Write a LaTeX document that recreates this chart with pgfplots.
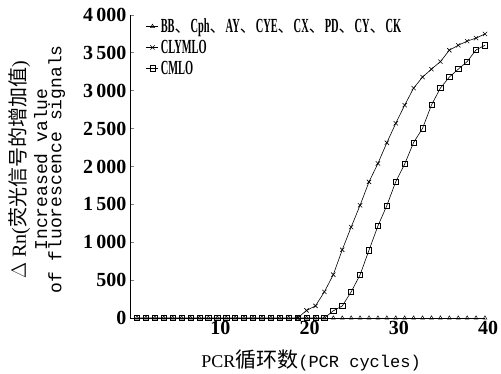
\documentclass[border=0pt]{standalone}
\usepackage{fontspec}
\setmainfont{Liberation Serif}
\setmonofont{Liberation Mono}
\newfontfamily\cjk{Noto Sans CJK SC}
\usepackage{graphicx}
\usepackage{pgfplots}
\pgfplotsset{compat=1.18}
\newcommand\lt[1]{\scalebox{0.52}[1]{\bfseries #1}}
\newcommand\dun{{\cjk\fontsize{16}{16}\selectfont 、}}
\begin{document}
\begin{tikzpicture}
\begin{axis}[
  scale only axis, width=355pt, height=303pt,
  xmin=0.215, xmax=40, ymin=0, ymax=4000,
  axis lines=left, axis line style={-, line width=0.8pt},
  xtick={10,20,30,40}, ytick={0,500,...,4000},
  x tick style={draw=none},
  y tick style={line width=0.8pt},
  tick align=inside, major tick length=4pt,
  tick label style={font=\fontsize{20}{20}\selectfont\bfseries},
  x tick label style={xshift=3pt},
  /pgf/number format/assume math mode=true,
  yticklabel style={/pgf/number format/1000 sep={\,}},
  clip=false,
  ylabel={{\fontsize{20}{20}\selectfont $\Delta$ Rn({\cjk 荧光信号的增加值})}\\[3pt]
          {\fontsize{18}{20}\selectfont\ttfamily Increased value}\\
          {\fontsize{18}{20}\selectfont\ttfamily of fluorescence signals}},
  ylabel style={align=center, at={(axis description cs:-0.262,0.49)}, anchor=center},
  xlabel={{\fontsize{18}{20}\selectfont PCR}{\fontsize{21}{22}\selectfont\cjk 循环数}{\fontsize{17}{20}\selectfont\ttfamily (PCR cycles)}},
  xlabel style={at={(axis description cs:0.51,-0.139)}, anchor=center},
  legend style={at={(rel axis cs:0.045,0.995)}, anchor=north west, draw=none, fill=none,
    font=\fontsize{20}{20}\selectfont, row sep=2pt, cells={anchor=west}, inner sep=0pt},
  legend image code/.code={\draw[mark repeat=2,mark phase=2,#1] plot coordinates {(0pt,0pt) (6pt,0pt) (12pt,0pt)};},
]
\addplot[black, line width=0.6pt, mark=triangle, mark size=2.2pt, mark options={fill=white, line width=0.5pt}] coordinates {
(1,0)(2,0)(3,0)(4,0)(5,0)(6,0)(7,0)(8,0)(9,0)(10,0)
(11,0)(12,0)(13,0)(14,0)(15,0)(16,0)(17,0)(18,0)(19,0)(20,0)
(21,0)(22,0)(23,0)(24,0)(25,0)(26,0)(27,0)(28,0)(29,0)(30,0)
(31,0)(32,0)(33,0)(34,0)(35,0)(36,0)(37,0)(38,0)(39,0)(40,0)};
\addlegendentry{\lt{BB}\dun\lt{Cph}\dun\lt{AY}\dun\lt{CYE}\dun\lt{CX}\dun\lt{PD}\dun\lt{CY}\dun\lt{CK}}
\addplot[black, line width=0.6pt, mark=square, mark size=2.6pt, mark options={fill=white, line width=0.6pt}, forget plot] coordinates {
(1,0)(2,0)(3,0)(4,0)(5,0)(6,0)(7,0)(8,0)(9,0)(10,0)
(11,0)(12,0)(13,0)(14,0)(15,0)(16,0)(17,0)(18,0)(19,0)(20,0)
(21,0)(22,0)(23,95)(24,158)(25,345)(26,570)(27,895)(28,1215)(29,1485)(30,1800)
(31,2033)(32,2317)(33,2504)(34,2812)(35,3035)(36,3180)(37,3285)(38,3385)(39,3540)(40,3600)};
\addplot[black, line width=0.6pt, mark=x, mark size=3pt, mark options={line width=0.6pt}] coordinates {
(19,0)(20,100)(21,160)(22,345)(23,572)(24,900)(25,1200)(26,1488)(27,1797)(28,2040)(29,2314)(30,2570)
(31,2810)(32,3035)(33,3180)(34,3285)(35,3384)(36,3535)(37,3600)(38,3655)(39,3695)(40,3750)};
\addlegendentry{\lt{CLYMLO}}
\addlegendimage{black, line width=0.6pt, mark=square, mark size=2.6pt, mark options={fill=white, line width=0.6pt}}
\addlegendentry{\lt{CMLO}}
\end{axis}
\pgfresetboundingbox
\path[use as bounding box] ([xshift=-130pt,yshift=-56pt]current axis.south west) rectangle ([xshift=16pt,yshift=15pt]current axis.north east);
\end{tikzpicture}
\end{document}
